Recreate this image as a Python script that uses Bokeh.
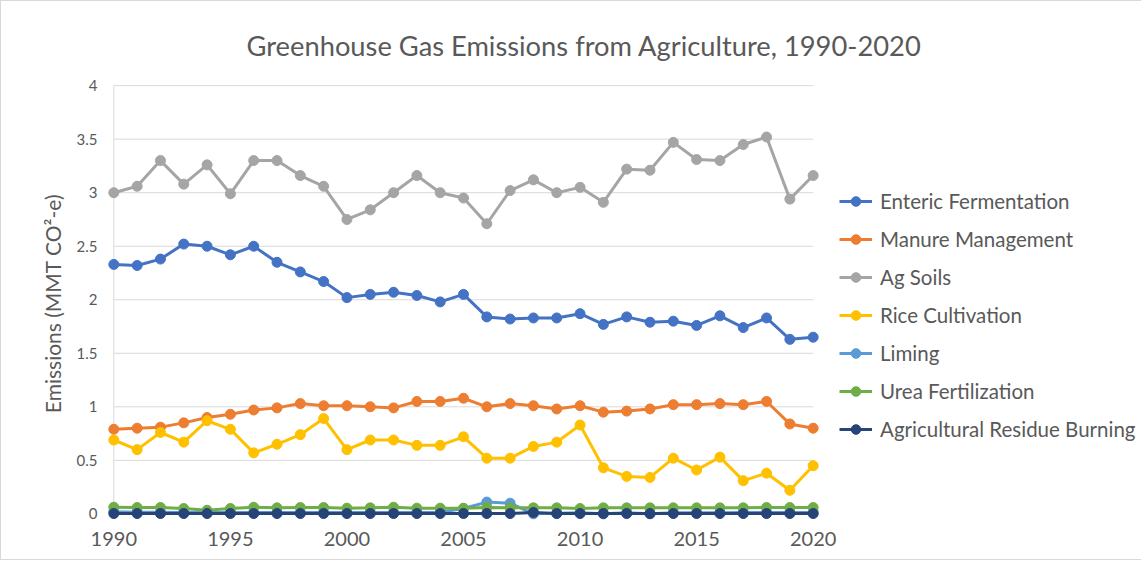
from bokeh.plotting import figure
from bokeh.models import (FixedTicker, NumeralTickFormatter, Legend, LegendItem,
                          Range1d)
from bokeh.embed import file_html
from bokeh.resources import INLINE

# ---------------- data ----------------
years = list(range(1990, 2021))

enteric = [2.33, 2.32, 2.38, 2.52, 2.50, 2.42, 2.50, 2.35, 2.26, 2.17,
           2.02, 2.05, 2.07, 2.04, 1.98, 2.05, 1.84, 1.82, 1.83, 1.83,
           1.87, 1.77, 1.84, 1.79, 1.80, 1.76, 1.85, 1.74, 1.83, 1.63, 1.65]
manure = [0.79, 0.80, 0.81, 0.85, 0.90, 0.93, 0.97, 0.99, 1.03, 1.01,
          1.01, 1.00, 0.99, 1.05, 1.05, 1.08, 1.00, 1.03, 1.01, 0.98,
          1.01, 0.95, 0.96, 0.98, 1.02, 1.02, 1.03, 1.02, 1.05, 0.84, 0.80]
ag_soils = [3.00, 3.06, 3.30, 3.08, 3.26, 2.99, 3.30, 3.30, 3.16, 3.06,
            2.75, 2.84, 3.00, 3.16, 3.00, 2.95, 2.71, 3.02, 3.12, 3.00,
            3.05, 2.91, 3.22, 3.21, 3.47, 3.31, 3.30, 3.45, 3.52, 2.94, 3.16]
rice = [0.69, 0.60, 0.76, 0.67, 0.87, 0.79, 0.57, 0.65, 0.74, 0.89,
        0.60, 0.69, 0.69, 0.64, 0.64, 0.72, 0.52, 0.52, 0.63, 0.67,
        0.83, 0.43, 0.35, 0.34, 0.52, 0.41, 0.53, 0.31, 0.38, 0.22, 0.45]
liming = [0.020, 0.015, 0.015, 0.012, 0.012, 0.012, 0.012, 0.012, 0.012, 0.012,
          0.012, 0.012, 0.012, 0.012, 0.015, 0.050, 0.110, 0.100, 0.000, 0.005,
          0.010, 0.000, 0.010, 0.000, 0.010, 0.010, 0.010, 0.012, 0.012, 0.012, 0.012]
urea = [0.062, 0.059, 0.059, 0.050, 0.034, 0.050, 0.062, 0.056, 0.059, 0.059,
        0.053, 0.056, 0.062, 0.053, 0.053, 0.053, 0.060, 0.056, 0.056, 0.056,
        0.050, 0.056, 0.056, 0.056, 0.056, 0.056, 0.056, 0.056, 0.059, 0.059, 0.059]
burning = [0.003, 0.003, 0.003, 0.003, 0.003, 0.003, 0.003, 0.003, 0.003, 0.003,
           0.003, 0.003, 0.003, 0.003, 0.003, 0.003, 0.003, 0.003, 0.012, 0.003,
           0.003, 0.003, 0.003, 0.003, 0.003, 0.003, 0.003, 0.003, 0.003, 0.003, 0.003]

series_names = ["Enteric Fermentation", "Manure Management", "Ag Soils",
                "Rice Cultivation", "Liming", "Urea Fertilization",
                "Agricultural Residue Burning"]
series_values = [enteric, manure, ag_soils, rice, liming, urea, burning]
series_colors = ["#4472C4", "#ED7D31", "#A5A5A5", "#FFC000", "#5B9BD5",
                 "#70AD47", "#264478"]

x_ticks = [1990, 1995, 2000, 2005, 2010, 2015, 2020]
y_ticks = [0, 0.5, 1, 1.5, 2, 2.5, 3, 3.5, 4]

title_text = "Greenhouse Gas Emissions from Agriculture, 1990-2020"
y_label = "Emissions (MMT CO\u00b2-e)"

FONT = "Lato"
TXT = "#595959"
GRID = "#D9D9D9"

# ---------------- figure ----------------
p = figure(frame_width=718, frame_height=440,
           min_border_left=103, min_border_right=317,
           min_border_top=82, min_border_bottom=36,
           x_range=Range1d(1989.6, 2020.4), y_range=Range1d(-0.09, 4.02),
           output_backend="svg", toolbar_location=None, tools="")
p.outline_line_color = None
p.xgrid.visible = False
p.ygrid.visible = False
p.background_fill_color = "white"
p.border_fill_color = "white"
p.styles = {"border": "1px solid #D9D9D9"}

# title
p.title.text = title_text
p.title.align = "left"
p.title.offset = 142
p.title.standoff = 44
p.title.text_font = FONT
p.title.text_font_size = "27.3px"
p.title.text_font_style = "normal"
p.title.text_color = TXT

# axes
p.xaxis.ticker = FixedTicker(ticks=x_ticks)
p.yaxis.ticker = FixedTicker(ticks=y_ticks)
p.yaxis.formatter = NumeralTickFormatter(format="0.[0]")
for ax in (p.xaxis[0], p.yaxis[0]):
    ax.axis_line_color = None
    ax.major_tick_line_color = None
    ax.minor_tick_line_color = None
    ax.major_tick_out = 0
    ax.major_tick_in = 0
    ax.major_label_text_color = TXT
    ax.major_label_text_font = FONT
p.xaxis.major_label_text_font_size = "20px"
p.xaxis.major_label_standoff = 8
p.yaxis.major_label_text_font_size = "15px"
p.yaxis.major_label_standoff = 7
p.yaxis.axis_label = y_label
p.yaxis.axis_label_text_font = FONT
p.yaxis.axis_label_text_font_size = "21px"
p.yaxis.axis_label_text_font_style = "normal"
p.yaxis.axis_label_text_color = TXT
p.yaxis.axis_label_standoff = 9

# gridlines (bounded to the axis extent) and vertical axis line
p.segment(x0=[years[0]] * len(y_ticks), x1=[years[-1]] * len(y_ticks),
          y0=y_ticks, y1=y_ticks, line_color=GRID, line_width=1)
p.segment(x0=[years[0]], x1=[years[0]], y0=[y_ticks[0]], y1=[y_ticks[-1]],
          line_color=GRID, line_width=1)

# series
items = []
for name, vals, col in zip(series_names, series_values, series_colors):
    ln = p.line(years, vals, line_color=col, line_width=3)
    sc = p.scatter(years, vals, size=10, fill_color=col, line_color=col)
    items.append(LegendItem(label=name, renderers=[ln, sc]))

legend = Legend(items=items, location=(17, 82), orientation="vertical",
                padding=0, margin=0, spacing=14,
                glyph_width=33, glyph_height=24, label_height=24,
                label_standoff=8,
                label_text_font=FONT, label_text_font_size="20.5px",
                label_text_color=TXT,
                border_line_color=None, background_fill_alpha=0)
p.add_layout(legend, "right")

open("out.html", "w").write(file_html(p, INLINE))
